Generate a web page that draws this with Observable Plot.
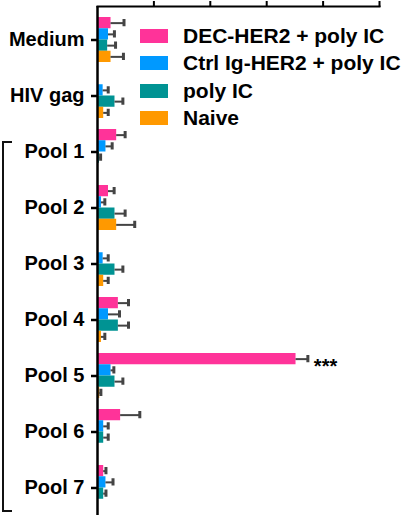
<!DOCTYPE html>
<html>
<head>
<meta charset="utf-8">
<script src="https://cdn.jsdelivr.net/npm/d3@7"></script>
<script src="https://cdn.jsdelivr.net/npm/@observablehq/plot@0.6"></script>
<style>
  html, body { margin: 0; padding: 0; background: #fff; overflow: hidden; }
  #wrap { position: relative; width: 407px; height: 515px; font-family: "Liberation Sans", Arial, sans-serif; }
  #wrap svg { display: block; position: relative; z-index: 2; background: transparent; }
  #legend { position: absolute; left: 140px; top: 22px; z-index: 1; }
  .row { display: flex; align-items: center; height: 27.5px; }
  .sw { width: 28px; height: 14px; margin-right: 15px; flex: none; }
  .lb { font-size: 21px; font-weight: bold; color: #000; white-space: nowrap; line-height: 24px; }
  #bracket { position: absolute; left: 2px; top: 141px; width: 8px; height: 367px; border: 2px solid #111; border-right: none; z-index: 1; }
</style>
</head>
<body>
<div id="wrap"><div id="bracket"></div><div id="legend"></div></div>
<script>
const categories = ["Medium", "HIV gag", "Pool 1", "Pool 2", "Pool 3", "Pool 4", "Pool 5", "Pool 6", "Pool 7"];
const series = ["DEC-HER2 + poly IC", "Ctrl Ig-HER2 + poly IC", "poly IC", "Naive"];
const colors = ["#ff3399", "#0099ff", "#009393", "#ff9900"];
const decHer2      = [24, null, 34, 19.5, null, 37, 352, 41, 11];
const decHer2Err   = [23, null, 15, 10, null, 18, 21, 34, 4];
const ctrlHer2     = [19.5, 10, 15, 7, 10, 19.5, 24, 11, 15];
const ctrlHer2Err  = [10.5, 9, 11, 6, 9, 19.5, 5, 8, 12.5];
const polyIC       = [18, 31, 3.5, 31, 31, 37, 31, 11, 11];
const polyICErr    = [14, 14, 2, 18, 14, 18, 14, 8, 4];
const naive        = [24, 11, null, 34, 11, 7, 4, null, null];
const naiveErr     = [22, 8, null, 32, 8, 6, 2, null, null];
const significance = ["", "", "", "", "", "", "***", "", ""];
const xTicks = [100, 200, 300, 400, 500];

const values = [decHer2, ctrlHer2, polyIC, naive];
const errors = [decHer2Err, ctrlHer2Err, polyICErr, naiveErr];
const data = series.map((s, i) => categories.map((c, j) => ({
  category: c, series: s, value: values[i][j], err: errors[i][j], sig: significance[j]
})).filter(d => d.value != null));

const font = "'Liberation Sans', Arial, sans-serif";

function make(h) {
  const marks = [];
  data.forEach((rows, i) => {
    marks.push(Plot.barX(rows, {y: "category", x: "value", fill: colors[i], insetTop: i * h, insetBottom: (3 - i) * h}));
  });
  data.forEach((rows, i) => {
    marks.push(Plot.ruleY(rows, {y: "category", x1: "value", x2: d => d.value + d.err, dy: (i - 1.5) * h, stroke: "#444", strokeWidth: 2}));
    marks.push(Plot.tickX(rows, {y: "category", x: d => d.value + d.err, insetTop: i * h + 2, insetBottom: (3 - i) * h + 2, stroke: "#444", strokeWidth: 3}));
  });
  marks.push(Plot.ruleX([0], {stroke: "#000", strokeWidth: 2.5}));
  marks.push(Plot.frame({anchor: "top", stroke: "#000", strokeWidth: 2}));
  marks.push(Plot.axisX({anchor: "top", ticks: xTicks, tickSize: 6, tickFormat: () => "", label: null, strokeWidth: 2, stroke: "#000"}));
  marks.push(Plot.axisY({anchor: "left", tickSize: 6, tickPadding: 7, label: null, fontSize: 20, fontWeight: "bold", strokeWidth: 2.5, stroke: "#000", fill: "#000"}));
  marks.push(Plot.text(data[0].filter(d => d.sig), {y: "category", x: d => d.value + d.err, text: "sig", dx: 6, dy: -1.5 * h + 7, textAnchor: "start", fontSize: 20, fontWeight: "bold", fill: "#000"}));
  return Plot.plot({
    width: 407, height: 515,
    marginLeft: 97, marginRight: 28, marginTop: 6, marginBottom: 0,
    style: {fontFamily: font, color: "#000"},
    x: {domain: [0, 500]},
    y: {domain: categories, range: [5, 523], padding: 0.19},
    marks
  });
}

const probe = make(11.4);
const bw = probe.scale("y").bandwidth;
const chart = make(bw / 4);
const wrap = document.getElementById("wrap");
wrap.appendChild(chart);

const legend = document.getElementById("legend");
series.forEach((s, i) => {
  const row = document.createElement("div"); row.className = "row";
  const sw = document.createElement("div"); sw.className = "sw"; sw.style.background = colors[i];
  const lb = document.createElement("div"); lb.className = "lb"; lb.textContent = s;
  row.appendChild(sw); row.appendChild(lb); legend.appendChild(row);
});
</script>
</body>
</html>
